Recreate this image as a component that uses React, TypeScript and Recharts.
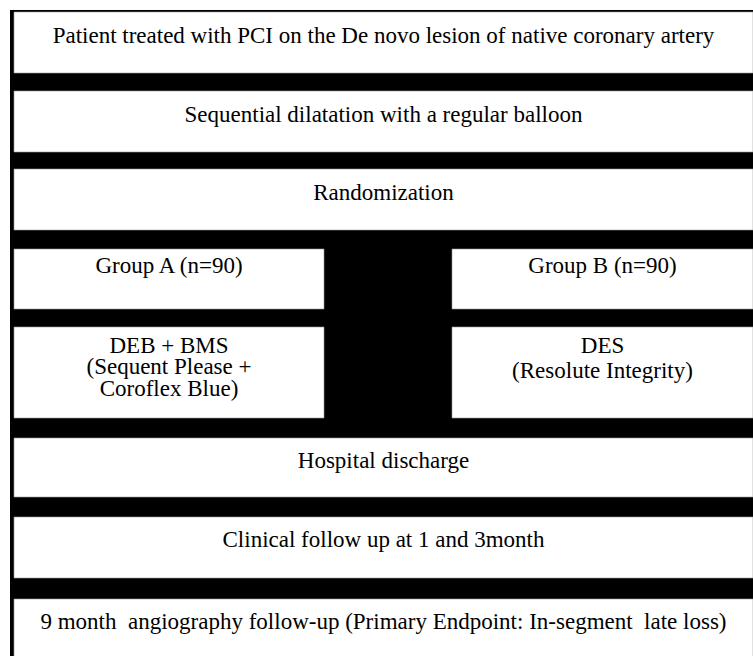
import React from "react";
import { ComposedChart, XAxis, YAxis, ReferenceArea } from "recharts";

// ---- content ----
const mainSteps = [
  "Patient treated with PCI on the De novo lesion of native coronary artery",
  "Sequential dilatation with a regular balloon",
  "Randomization",
];
const groupLabels = ["Group A (n=90)", "Group B (n=90)"];
const treatmentLabels = [
  ["DEB + BMS", "(Sequent Please +", "Coroflex Blue)"],
  ["DES", "(Resolute Integrity)"],
];
const followUpSteps = [
  "Hospital discharge",
  "Clinical follow up at 1 and 3month",
  "9 month  angiography follow-up (Primary Endpoint: In-segment  late loss)",
];

// ---- layout (pixel units of the chart's coordinate system) ----
const W = 753;
const H = 656;
const FRAME = { x1: 10, x2: 753, y1: 10, y2: 656 };
const FULL_X = [14, 753];
const LEFT_X = [14, 324];
const RIGHT_X = [452, 753];
const mainRows = [
  [12, 73],
  [91, 152],
  [169, 230],
];
const groupRow = [249, 309];
const treatRow = [327, 418];
const followRows = [
  [438, 497],
  [517, 578],
  [599, 660],
];
const FONT = "Liberation Serif, Times New Roman, DejaVu Serif, serif";
const FS = 23;

type Box = { x: number[]; y: number[]; lines: string[]; pad: number; lh: number };

const boxes: Box[] = [
  ...mainSteps.map((t, i) => ({ x: FULL_X, y: mainRows[i], lines: [t], pad: 31, lh: 22 })),
  { x: LEFT_X, y: groupRow, lines: [groupLabels[0]], pad: 24, lh: 22 },
  { x: RIGHT_X, y: groupRow, lines: [groupLabels[1]], pad: 24, lh: 22 },
  { x: LEFT_X, y: treatRow, lines: treatmentLabels[0], pad: 25.5, lh: 21.7 },
  { x: RIGHT_X, y: treatRow, lines: treatmentLabels[1], pad: 25.5, lh: 25 },
  ...followUpSteps.map((t, i) => ({ x: FULL_X, y: followRows[i], lines: [t], pad: 30, lh: 22 })),
];

const makeLabel = (lines: string[], pad: number, lh: number) => (props: any) => {
  const vb = props.viewBox || {};
  const cx = vb.x + vb.width / 2;
  const top = vb.y;
  return (
    <text
      x={cx}
      y={top + pad}
      textAnchor="middle"
      fill="#000"
      fontFamily={FONT}
      fontSize={FS}
      style={{ fontFamily: FONT, fontSize: FS, whiteSpace: "pre" }}
    >
      {lines.map((l, i) => (
        <tspan key={i} x={cx} y={top + pad + i * lh}>
          {l}
        </tspan>
      ))}
    </text>
  );
};

const dummy = [{ x: 0, y: 0 }, { x: W, y: H }];

export default function App() {
  return (
    <div
      style={{
        position: "absolute",
        left: 0,
        top: 0,
        width: W,
        height: H,
        background: "#fff",
        fontFamily: FONT,
      }}
    >
      <ComposedChart width={W} height={H} data={dummy} margin={{ top: 0, right: 0, bottom: 0, left: 0 }}>
        <XAxis type="number" dataKey="x" domain={[0, W]} hide allowDataOverflow />
        <YAxis type="number" dataKey="y" domain={[0, H]} reversed hide allowDataOverflow />
        <ReferenceArea
          x1={FRAME.x1}
          x2={FRAME.x2}
          y1={FRAME.y1}
          y2={FRAME.y2}
          fill="#000"
          fillOpacity={1}
          ifOverflow="visible"
        />
        {boxes.map((b, i) => (
          <ReferenceArea
            key={i}
            x1={b.x[0]}
            x2={b.x[1]}
            y1={b.y[0]}
            y2={b.y[1]}
            fill="#fff"
            fillOpacity={1}
            stroke="#9a9a9a"
            strokeWidth={0.6}
            ifOverflow="visible"
            label={makeLabel(b.lines, b.pad, b.lh)}
          />
        ))}
      </ComposedChart>
    </div>
  );
}
